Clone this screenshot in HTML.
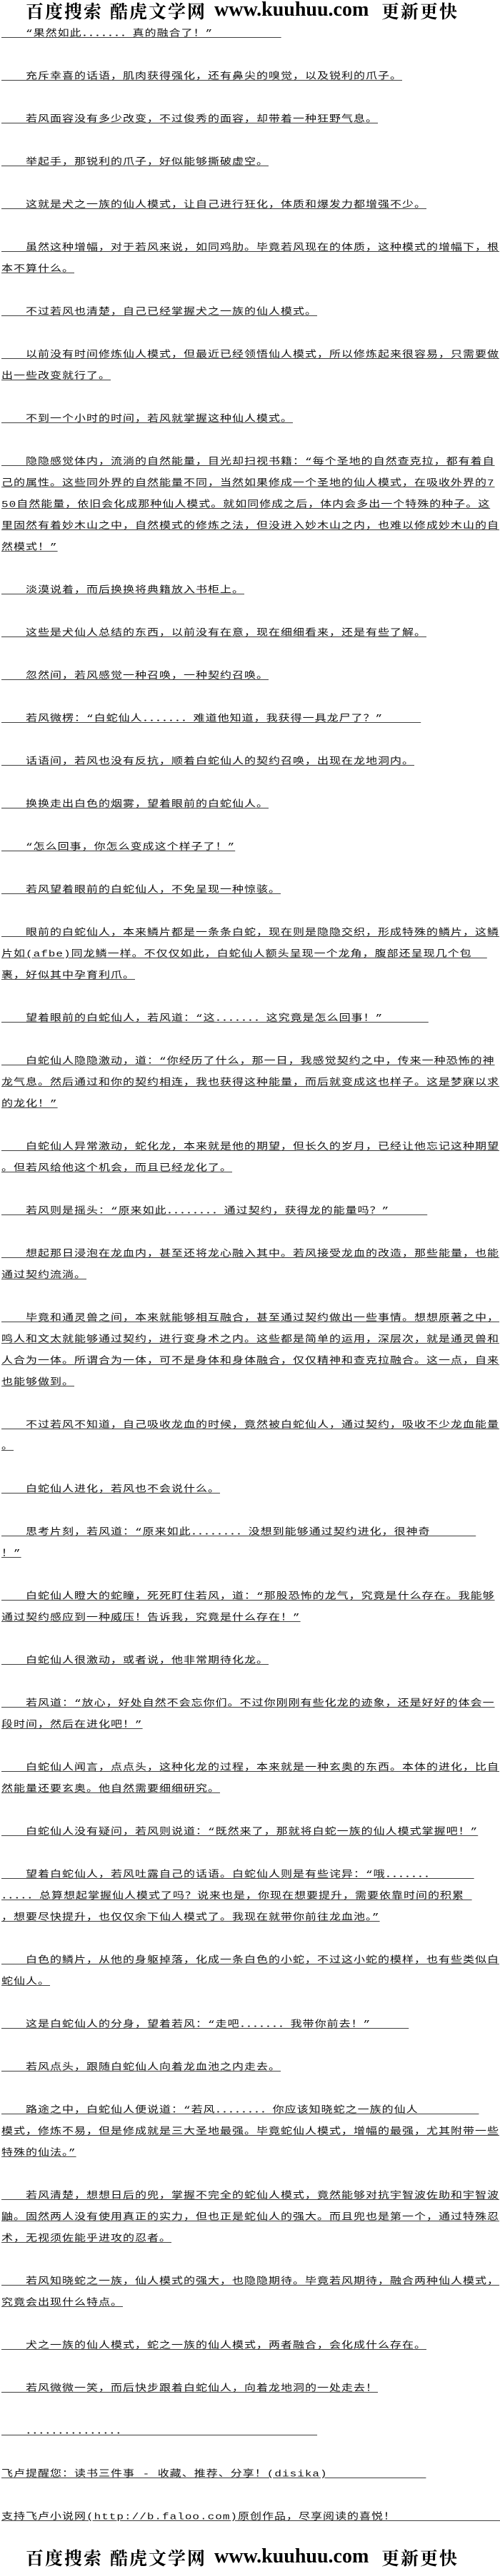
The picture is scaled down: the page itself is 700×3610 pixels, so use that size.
<!DOCTYPE html>
<html><head><meta charset="utf-8">
<style>
html,body{margin:0;padding:0;background:#fff;}
body{width:700px;height:3610px;position:relative;overflow:hidden;}
.hdr{position:absolute;left:0;height:30px;width:700px;}
.hdr span{position:absolute;white-space:nowrap;color:#000;}
.cn{font-family:"Noto Serif CJK SC","WenQuanYi Zen Hei",serif;font-weight:bold;font-size:25px;letter-spacing:2px;line-height:30px;top:0;}
.en{font-family:"Liberation Serif",serif;font-weight:bold;font-size:28px;line-height:30px;top:-1px;}
#txt{position:absolute;left:2px;top:32px;width:698px;}
#txt div{height:30px;line-height:30px;white-space:pre;overflow:hidden;font-family:"Liberation Mono","Noto Sans CJK SC",monospace;font-size:16px;letter-spacing:1px;color:#111;}
#txt div span{display:inline-block;transform:scaleY(0.8);transform-origin:50% 55%;text-decoration:underline;text-underline-offset:2px;}
</style></head><body>
<div class="hdr" style="top:0">
<span class="cn" style="left:36px">百度搜索</span>
<span class="cn" style="left:154px">酷虎文学网</span>
<span class="en" style="left:300px">www.kuuhuu.com</span>
<span class="cn" style="left:534px">更新更快</span>
</div>
<div id="txt">
<div><span>　　“果然如此．．．．．．．真的融合了！”&nbsp;&nbsp;&nbsp;&nbsp;&nbsp;&nbsp;&nbsp;&nbsp;&nbsp;</span></div>
<div></div>
<div><span>　　充斥幸喜的话语，肌肉获得强化，还有鼻尖的嗅觉，以及锐利的爪子。</span></div>
<div></div>
<div><span>　　若风面容没有多少改变，不过俊秀的面容，却带着一种狂野气息。</span></div>
<div></div>
<div><span>　　举起手，那锐利的爪子，好似能够撕破虚空。</span></div>
<div></div>
<div><span>　　这就是犬之一族的仙人模式，让自己进行狂化，体质和爆发力都增强不少。</span></div>
<div></div>
<div><span>　　虽然这种增幅，对于若风来说，如同鸡肋。毕竟若风现在的体质，这种模式的增幅下，根</span></div>
<div><span>本不算什么。</span></div>
<div></div>
<div><span>　　不过若风也清楚，自己已经掌握犬之一族的仙人模式。</span></div>
<div></div>
<div><span>　　以前没有时间修炼仙人模式，但最近已经领悟仙人模式，所以修炼起来很容易，只需要做</span></div>
<div><span>出一些改变就行了。</span></div>
<div></div>
<div><span>　　不到一个小时的时间，若风就掌握这种仙人模式。</span></div>
<div></div>
<div><span>　　隐隐感觉体内，流淌的自然能量，目光却扫视书籍：“每个圣地的自然查克拉，都有着自</span></div>
<div><span>己的属性。这些同外界的自然能量不同，当然如果修成一个圣地的仙人模式，在吸收外界的7</span></div>
<div><span>50自然能量，依旧会化成那种仙人模式。就如同修成之后，体内会多出一个特殊的种子。这</span></div>
<div><span>里固然有着妙木山之中，自然模式的修炼之法，但没进入妙木山之内，也难以修成妙木山的自</span></div>
<div><span>然模式！”</span></div>
<div></div>
<div><span>　　淡漠说着，而后换换将典籍放入书柜上。</span></div>
<div></div>
<div><span>　　这些是犬仙人总结的东西，以前没有在意，现在细细看来，还是有些了解。</span></div>
<div></div>
<div><span>　　忽然间，若风感觉一种召唤，一种契约召唤。</span></div>
<div></div>
<div><span>　　若风微楞：“白蛇仙人．．．．．．．难道他知道，我获得一具龙尸了？”&nbsp;&nbsp;&nbsp;&nbsp;&nbsp;</span></div>
<div></div>
<div><span>　　话语间，若风也没有反抗，顺着白蛇仙人的契约召唤，出现在龙地洞内。</span></div>
<div></div>
<div><span>　　换换走出白色的烟雾，望着眼前的白蛇仙人。</span></div>
<div></div>
<div><span>　　“怎么回事，你怎么变成这个样子了！”</span></div>
<div></div>
<div><span>　　若风望着眼前的白蛇仙人，不免呈现一种惊骇。</span></div>
<div></div>
<div><span>　　眼前的白蛇仙人，本来鳞片都是一条条白蛇，现在则是隐隐交织，形成特殊的鳞片，这鳞</span></div>
<div><span>片如(afbe)同龙鳞一样。不仅仅如此，白蛇仙人额头呈现一个龙角，腹部还呈现几个包&nbsp;&nbsp;</span></div>
<div><span>裹，好似其中孕育利爪。</span></div>
<div></div>
<div><span>　　望着眼前的白蛇仙人，若风道：“这．．．．．．．这究竟是怎么回事！”&nbsp;&nbsp;&nbsp;&nbsp;&nbsp;&nbsp;</span></div>
<div></div>
<div><span>　　白蛇仙人隐隐激动，道：“你经历了什么，那一日，我感觉契约之中，传来一种恐怖的神</span></div>
<div><span>龙气息。然后通过和你的契约相连，我也获得这种能量，而后就变成这也样子。这是梦寐以求</span></div>
<div><span>的龙化！”</span></div>
<div></div>
<div><span>　　白蛇仙人异常激动，蛇化龙，本来就是他的期望，但长久的岁月，已经让他忘记这种期望</span></div>
<div><span>。但若风给他这个机会，而且已经龙化了。</span></div>
<div></div>
<div><span>　　若风则是摇头：“原来如此．．．．．．．．通过契约，获得龙的能量吗？”&nbsp;&nbsp;&nbsp;&nbsp;&nbsp;</span></div>
<div></div>
<div><span>　　想起那日浸泡在龙血内，甚至还将龙心融入其中。若风接受龙血的改造，那些能量，也能</span></div>
<div><span>通过契约流淌。</span></div>
<div></div>
<div><span>　　毕竟和通灵兽之间，本来就能够相互融合，甚至通过契约做出一些事情。想想原著之中，</span></div>
<div><span>鸣人和文太就能够通过契约，进行变身术之内。这些都是简单的运用，深层次，就是通灵兽和</span></div>
<div><span>人合为一体。所谓合为一体，可不是身体和身体融合，仅仅精神和查克拉融合。这一点，自来</span></div>
<div><span>也能够做到。</span></div>
<div></div>
<div><span>　　不过若风不知道，自己吸收龙血的时候，竟然被白蛇仙人，通过契约，吸收不少龙血能量</span></div>
<div><span>。</span></div>
<div></div>
<div><span>　　白蛇仙人进化，若风也不会说什么。</span></div>
<div></div>
<div><span>　　思考片刻，若风道：“原来如此．．．．．．．．没想到能够通过契约进化，很神奇&nbsp;&nbsp;&nbsp;&nbsp;&nbsp;&nbsp;</span></div>
<div><span>！”</span></div>
<div></div>
<div><span>　　白蛇仙人瞪大的蛇瞳，死死盯住若风，道：“那股恐怖的龙气，究竟是什么存在。我能够</span></div>
<div><span>通过契约感应到一种威压！告诉我，究竟是什么存在！”</span></div>
<div></div>
<div><span>　　白蛇仙人很激动，或者说，他非常期待化龙。</span></div>
<div></div>
<div><span>　　若风道：“放心，好处自然不会忘你们。不过你刚刚有些化龙的迹象，还是好好的体会一</span></div>
<div><span>段时间，然后在进化吧！”</span></div>
<div></div>
<div><span>　　白蛇仙人闻言，点点头，这种化龙的过程，本来就是一种玄奥的东西。本体的进化，比自</span></div>
<div><span>然能量还要玄奥。他自然需要细细研究。</span></div>
<div></div>
<div><span>　　白蛇仙人没有疑问，若风则说道：“既然来了，那就将白蛇一族的仙人模式掌握吧！”</span></div>
<div></div>
<div><span>　　望着白蛇仙人，若风吐露自己的话语。白蛇仙人则是有些诧异：“哦．．．．．．．&nbsp;&nbsp;&nbsp;&nbsp;&nbsp;</span></div>
<div><span>．．．．．总算想起掌握仙人模式了吗？说来也是，你现在想要提升，需要依靠时间的积累&nbsp;</span></div>
<div><span>，想要尽快提升，也仅仅余下仙人模式了。我现在就带你前往龙血池。”</span></div>
<div></div>
<div><span>　　白色的鳞片，从他的身躯掉落，化成一条白色的小蛇，不过这小蛇的模样，也有些类似白</span></div>
<div><span>蛇仙人。</span></div>
<div></div>
<div><span>　　这是白蛇仙人的分身，望着若风：“走吧．．．．．．．我带你前去！”&nbsp;&nbsp;&nbsp;&nbsp;&nbsp;</span></div>
<div></div>
<div><span>　　若风点头，跟随白蛇仙人向着龙血池之内走去。</span></div>
<div></div>
<div><span>　　路途之中，白蛇仙人便说道：“若风．．．．．．．．你应该知晓蛇之一族的仙人&nbsp;&nbsp;&nbsp;&nbsp;&nbsp;&nbsp;&nbsp;&nbsp;</span></div>
<div><span>模式，修炼不易，但是修成就是三大圣地最强。毕竟蛇仙人模式，增幅的最强，尤其附带一些</span></div>
<div><span>特殊的仙法。”</span></div>
<div></div>
<div><span>　　若风清楚，想想日后的兜，掌握不完全的蛇仙人模式，竟然能够对抗宇智波佐助和宇智波</span></div>
<div><span>鼬。固然两人没有使用真正的实力，但也正是蛇仙人的强大。而且兜也是第一个，通过特殊忍</span></div>
<div><span>术，无视须佐能乎进攻的忍者。</span></div>
<div></div>
<div><span>　　若风知晓蛇之一族，仙人模式的强大，也隐隐期待。毕竟若风期待，融合两种仙人模式，</span></div>
<div><span>究竟会出现什么特点。</span></div>
<div></div>
<div><span>　　犬之一族的仙人模式，蛇之一族的仙人模式，两者融合，会化成什么存在。</span></div>
<div></div>
<div><span>　　若风微微一笑，而后快步跟着白蛇仙人，向着龙地洞的一处走去！</span></div>
<div></div>
<div><span>　　．．．．．．．．．．．．．．．&nbsp;&nbsp;&nbsp;&nbsp;&nbsp;&nbsp;&nbsp;&nbsp;&nbsp;&nbsp;&nbsp;&nbsp;&nbsp;&nbsp;&nbsp;&nbsp;&nbsp;&nbsp;&nbsp;&nbsp;&nbsp;&nbsp;&nbsp;&nbsp;&nbsp;</span></div>
<div></div>
<div><span>飞卢提醒您：读书三件事 - 收藏、推荐、分享！(disika)&nbsp;&nbsp;&nbsp;&nbsp;&nbsp;&nbsp;&nbsp;&nbsp;&nbsp;&nbsp;&nbsp;&nbsp;&nbsp;</span></div>
<div></div>
<div><span>支持飞卢小说网(http://b.faloo.com)原创作品，尽享阅读的喜悦！&nbsp;&nbsp;&nbsp;&nbsp;&nbsp;&nbsp;&nbsp;&nbsp;&nbsp;&nbsp;&nbsp;&nbsp;&nbsp;&nbsp;&nbsp;</span></div>
</div>
<div class="hdr" style="top:3569px">
<span class="cn" style="left:36px">百度搜索</span>
<span class="cn" style="left:154px">酷虎文学网</span>
<span class="en" style="left:300px">www.kuuhuu.com</span>
<span class="cn" style="left:534px">更新更快</span>
</div>
</body></html>
